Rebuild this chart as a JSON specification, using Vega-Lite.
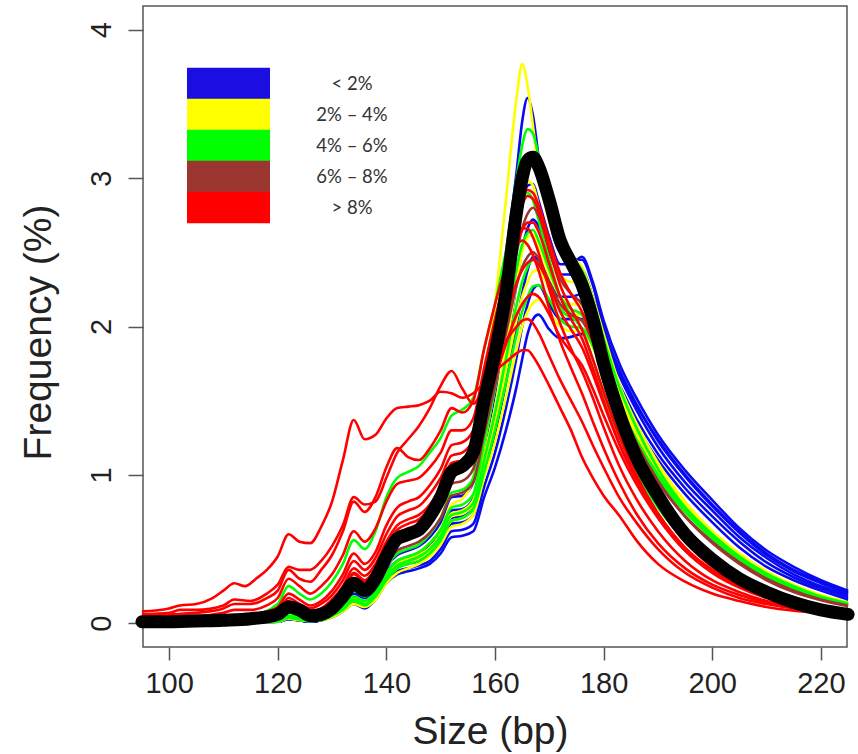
{
"$schema":"https://vega.github.io/schema/vega-lite/v6.json",
"width":704,"height":641,
"autosize":{"type":"none"},
"padding":{"left":143,"top":6,"right":11,"bottom":107},
"background":"white",
"config":{"view":{"stroke":"#555","strokeWidth":1.5},"font":"Liberation Sans"},
"datasets":{"groups":[
{"s":"b1","g":"< 2%"},{"s":"b2","g":"< 2%"},{"s":"b3","g":"< 2%"},{"s":"b4","g":"< 2%"},{"s":"b5","g":"< 2%"},{"s":"b6","g":"< 2%"},
{"s":"y1","g":"2% – 4%"},{"s":"y2","g":"2% – 4%"},{"s":"y3","g":"2% – 4%"},{"s":"y4","g":"2% – 4%"},{"s":"y5","g":"2% – 4%"},
{"s":"g1","g":"4% – 6%"},{"s":"g2","g":"4% – 6%"},{"s":"g3","g":"4% – 6%"},{"s":"g4","g":"4% – 6%"},{"s":"g5","g":"4% – 6%"},
{"s":"n1","g":"6% – 8%"},{"s":"n2","g":"6% – 8%"},
{"s":"rA","g":"> 8%"},{"s":"rB","g":"> 8%"},{"s":"rC","g":"> 8%"},{"s":"rD","g":"> 8%"},{"s":"rE","g":"> 8%"},{"s":"rF","g":"> 8%"},{"s":"rG","g":"> 8%"},{"s":"rH","g":"> 8%"},{"s":"rI","g":"> 8%"},
{"s":"m","g":"mean"}]},
"data":{"values":[
{"s":"b1","x":95,"y":0},{"s":"b1","x":110,"y":0.005},{"s":"b1","x":120,"y":0.015},{"s":"b1","x":122,"y":0.04},{"s":"b1","x":124,"y":0.03},{"s":"b1","x":126,"y":0.02},{"s":"b1","x":128,"y":0.03},{"s":"b1","x":130,"y":0.06},{"s":"b1","x":132,"y":0.11},{"s":"b1","x":134,"y":0.2},{"s":"b1","x":136,"y":0.17},{"s":"b1","x":138,"y":0.24},{"s":"b1","x":140,"y":0.38},{"s":"b1","x":142,"y":0.46},{"s":"b1","x":144,"y":0.49},{"s":"b1","x":146,"y":0.52},{"s":"b1","x":148,"y":0.58},{"s":"b1","x":150,"y":0.68},{"s":"b1","x":152,"y":0.85},{"s":"b1","x":154,"y":0.86},{"s":"b1","x":156,"y":0.95},{"s":"b1","x":158,"y":1.35},{"s":"b1","x":160,"y":1.85},{"s":"b1","x":162,"y":2.45},{"s":"b1","x":164,"y":3.05},{"s":"b1","x":165,"y":3.38},{"s":"b1","x":166,"y":3.54},{"s":"b1","x":167,"y":3.42},{"s":"b1","x":168,"y":3.15},{"s":"b1","x":170,"y":2.72},{"s":"b1","x":172,"y":2.5},{"s":"b1","x":174,"y":2.45},{"s":"b1","x":176,"y":2.45},{"s":"b1","x":178,"y":2.28},{"s":"b1","x":180,"y":2.0},{"s":"b1","x":183,"y":1.68},{"s":"b1","x":186,"y":1.47},{"s":"b1","x":190,"y":1.24},{"s":"b1","x":195,"y":1.0},{"s":"b1","x":200,"y":0.8},{"s":"b1","x":205,"y":0.62},{"s":"b1","x":210,"y":0.47},{"s":"b1","x":215,"y":0.36},{"s":"b1","x":220,"y":0.28},{"s":"b1","x":225,"y":0.21},
{"s":"b2","x":95,"y":0},{"s":"b2","x":110,"y":0.005},{"s":"b2","x":120,"y":0.01},{"s":"b2","x":122,"y":0.03},{"s":"b2","x":124,"y":0.02},{"s":"b2","x":126,"y":0.015},{"s":"b2","x":128,"y":0.025},{"s":"b2","x":130,"y":0.05},{"s":"b2","x":132,"y":0.1},{"s":"b2","x":134,"y":0.18},{"s":"b2","x":136,"y":0.15},{"s":"b2","x":138,"y":0.21},{"s":"b2","x":140,"y":0.35},{"s":"b2","x":142,"y":0.42},{"s":"b2","x":144,"y":0.45},{"s":"b2","x":146,"y":0.47},{"s":"b2","x":148,"y":0.52},{"s":"b2","x":150,"y":0.61},{"s":"b2","x":152,"y":0.76},{"s":"b2","x":154,"y":0.77},{"s":"b2","x":156,"y":0.84},{"s":"b2","x":158,"y":1.18},{"s":"b2","x":160,"y":1.55},{"s":"b2","x":162,"y":2.05},{"s":"b2","x":164,"y":2.6},{"s":"b2","x":165,"y":2.82},{"s":"b2","x":166,"y":2.95},{"s":"b2","x":167,"y":2.96},{"s":"b2","x":168,"y":2.85},{"s":"b2","x":170,"y":2.6},{"s":"b2","x":172,"y":2.42},{"s":"b2","x":174,"y":2.42},{"s":"b2","x":176,"y":2.47},{"s":"b2","x":178,"y":2.3},{"s":"b2","x":180,"y":2.04},{"s":"b2","x":183,"y":1.74},{"s":"b2","x":186,"y":1.52},{"s":"b2","x":190,"y":1.27},{"s":"b2","x":195,"y":1.03},{"s":"b2","x":200,"y":0.83},{"s":"b2","x":205,"y":0.64},{"s":"b2","x":210,"y":0.49},{"s":"b2","x":215,"y":0.38},{"s":"b2","x":220,"y":0.29},{"s":"b2","x":225,"y":0.22},
{"s":"b3","x":95,"y":0},{"s":"b3","x":110,"y":0.005},{"s":"b3","x":120,"y":0.01},{"s":"b3","x":122,"y":0.03},{"s":"b3","x":124,"y":0.02},{"s":"b3","x":126,"y":0.01},{"s":"b3","x":128,"y":0.02},{"s":"b3","x":130,"y":0.05},{"s":"b3","x":132,"y":0.09},{"s":"b3","x":134,"y":0.17},{"s":"b3","x":136,"y":0.14},{"s":"b3","x":138,"y":0.2},{"s":"b3","x":140,"y":0.33},{"s":"b3","x":142,"y":0.4},{"s":"b3","x":144,"y":0.42},{"s":"b3","x":146,"y":0.44},{"s":"b3","x":148,"y":0.49},{"s":"b3","x":150,"y":0.57},{"s":"b3","x":152,"y":0.71},{"s":"b3","x":154,"y":0.72},{"s":"b3","x":156,"y":0.78},{"s":"b3","x":158,"y":1.08},{"s":"b3","x":160,"y":1.4},{"s":"b3","x":162,"y":1.82},{"s":"b3","x":164,"y":2.3},{"s":"b3","x":165,"y":2.52},{"s":"b3","x":166,"y":2.66},{"s":"b3","x":167,"y":2.72},{"s":"b3","x":168,"y":2.68},{"s":"b3","x":170,"y":2.5},{"s":"b3","x":172,"y":2.35},{"s":"b3","x":174,"y":2.35},{"s":"b3","x":176,"y":2.38},{"s":"b3","x":178,"y":2.2},{"s":"b3","x":180,"y":1.98},{"s":"b3","x":183,"y":1.7},{"s":"b3","x":186,"y":1.48},{"s":"b3","x":190,"y":1.23},{"s":"b3","x":195,"y":0.99},{"s":"b3","x":200,"y":0.79},{"s":"b3","x":205,"y":0.61},{"s":"b3","x":210,"y":0.46},{"s":"b3","x":215,"y":0.35},{"s":"b3","x":220,"y":0.27},{"s":"b3","x":225,"y":0.2},
{"s":"b4","x":95,"y":0},{"s":"b4","x":110,"y":0.005},{"s":"b4","x":120,"y":0.01},{"s":"b4","x":122,"y":0.025},{"s":"b4","x":124,"y":0.02},{"s":"b4","x":126,"y":0.01},{"s":"b4","x":128,"y":0.02},{"s":"b4","x":130,"y":0.045},{"s":"b4","x":132,"y":0.09},{"s":"b4","x":134,"y":0.16},{"s":"b4","x":136,"y":0.13},{"s":"b4","x":138,"y":0.19},{"s":"b4","x":140,"y":0.31},{"s":"b4","x":142,"y":0.38},{"s":"b4","x":144,"y":0.4},{"s":"b4","x":146,"y":0.42},{"s":"b4","x":148,"y":0.46},{"s":"b4","x":150,"y":0.54},{"s":"b4","x":152,"y":0.67},{"s":"b4","x":154,"y":0.68},{"s":"b4","x":156,"y":0.73},{"s":"b4","x":158,"y":1.0},{"s":"b4","x":160,"y":1.28},{"s":"b4","x":162,"y":1.62},{"s":"b4","x":164,"y":2.02},{"s":"b4","x":165,"y":2.22},{"s":"b4","x":166,"y":2.38},{"s":"b4","x":167,"y":2.47},{"s":"b4","x":168,"y":2.45},{"s":"b4","x":170,"y":2.3},{"s":"b4","x":172,"y":2.2},{"s":"b4","x":174,"y":2.2},{"s":"b4","x":176,"y":2.22},{"s":"b4","x":178,"y":2.08},{"s":"b4","x":180,"y":1.92},{"s":"b4","x":183,"y":1.66},{"s":"b4","x":186,"y":1.44},{"s":"b4","x":190,"y":1.19},{"s":"b4","x":195,"y":0.95},{"s":"b4","x":200,"y":0.76},{"s":"b4","x":205,"y":0.58},{"s":"b4","x":210,"y":0.44},{"s":"b4","x":215,"y":0.33},{"s":"b4","x":220,"y":0.25},{"s":"b4","x":225,"y":0.19},
{"s":"b5","x":95,"y":0},{"s":"b5","x":110,"y":0.005},{"s":"b5","x":120,"y":0.01},{"s":"b5","x":122,"y":0.03},{"s":"b5","x":124,"y":0.02},{"s":"b5","x":126,"y":0.015},{"s":"b5","x":128,"y":0.02},{"s":"b5","x":130,"y":0.045},{"s":"b5","x":132,"y":0.09},{"s":"b5","x":134,"y":0.14},{"s":"b5","x":136,"y":0.11},{"s":"b5","x":138,"y":0.17},{"s":"b5","x":140,"y":0.29},{"s":"b5","x":142,"y":0.35},{"s":"b5","x":144,"y":0.37},{"s":"b5","x":146,"y":0.39},{"s":"b5","x":148,"y":0.42},{"s":"b5","x":150,"y":0.5},{"s":"b5","x":152,"y":0.62},{"s":"b5","x":154,"y":0.63},{"s":"b5","x":156,"y":0.67},{"s":"b5","x":158,"y":0.92},{"s":"b5","x":160,"y":1.15},{"s":"b5","x":162,"y":1.45},{"s":"b5","x":164,"y":1.8},{"s":"b5","x":165,"y":2.0},{"s":"b5","x":166,"y":2.15},{"s":"b5","x":167,"y":2.25},{"s":"b5","x":168,"y":2.28},{"s":"b5","x":170,"y":2.15},{"s":"b5","x":172,"y":2.05},{"s":"b5","x":174,"y":2.05},{"s":"b5","x":176,"y":2.05},{"s":"b5","x":178,"y":1.95},{"s":"b5","x":180,"y":1.83},{"s":"b5","x":183,"y":1.6},{"s":"b5","x":186,"y":1.38},{"s":"b5","x":190,"y":1.14},{"s":"b5","x":195,"y":0.91},{"s":"b5","x":200,"y":0.72},{"s":"b5","x":205,"y":0.55},{"s":"b5","x":210,"y":0.41},{"s":"b5","x":215,"y":0.31},{"s":"b5","x":220,"y":0.235},{"s":"b5","x":225,"y":0.175},
{"s":"b6","x":95,"y":0},{"s":"b6","x":110,"y":0.005},{"s":"b6","x":120,"y":0.01},{"s":"b6","x":122,"y":0.03},{"s":"b6","x":124,"y":0.02},{"s":"b6","x":126,"y":0.01},{"s":"b6","x":128,"y":0.02},{"s":"b6","x":130,"y":0.04},{"s":"b6","x":132,"y":0.08},{"s":"b6","x":134,"y":0.13},{"s":"b6","x":136,"y":0.1},{"s":"b6","x":138,"y":0.16},{"s":"b6","x":140,"y":0.27},{"s":"b6","x":142,"y":0.33},{"s":"b6","x":144,"y":0.35},{"s":"b6","x":146,"y":0.37},{"s":"b6","x":148,"y":0.4},{"s":"b6","x":150,"y":0.47},{"s":"b6","x":152,"y":0.58},{"s":"b6","x":154,"y":0.59},{"s":"b6","x":156,"y":0.62},{"s":"b6","x":158,"y":0.85},{"s":"b6","x":160,"y":1.05},{"s":"b6","x":162,"y":1.3},{"s":"b6","x":164,"y":1.6},{"s":"b6","x":165,"y":1.78},{"s":"b6","x":166,"y":1.95},{"s":"b6","x":167,"y":2.05},{"s":"b6","x":168,"y":2.08},{"s":"b6","x":170,"y":1.98},{"s":"b6","x":172,"y":1.92},{"s":"b6","x":174,"y":1.93},{"s":"b6","x":176,"y":1.95},{"s":"b6","x":178,"y":1.88},{"s":"b6","x":180,"y":1.78},{"s":"b6","x":183,"y":1.55},{"s":"b6","x":186,"y":1.33},{"s":"b6","x":190,"y":1.1},{"s":"b6","x":195,"y":0.87},{"s":"b6","x":200,"y":0.68},{"s":"b6","x":205,"y":0.51},{"s":"b6","x":210,"y":0.38},{"s":"b6","x":215,"y":0.29},{"s":"b6","x":220,"y":0.22},{"s":"b6","x":225,"y":0.16},
{"s":"y1","x":95,"y":0},{"s":"y1","x":110,"y":0.005},{"s":"y1","x":120,"y":0.02},{"s":"y1","x":122,"y":0.05},{"s":"y1","x":124,"y":0.04},{"s":"y1","x":126,"y":0.02},{"s":"y1","x":128,"y":0.03},{"s":"y1","x":130,"y":0.06},{"s":"y1","x":132,"y":0.11},{"s":"y1","x":134,"y":0.18},{"s":"y1","x":136,"y":0.15},{"s":"y1","x":138,"y":0.21},{"s":"y1","x":140,"y":0.34},{"s":"y1","x":142,"y":0.42},{"s":"y1","x":144,"y":0.45},{"s":"y1","x":146,"y":0.48},{"s":"y1","x":148,"y":0.54},{"s":"y1","x":150,"y":0.64},{"s":"y1","x":152,"y":0.8},{"s":"y1","x":154,"y":0.84},{"s":"y1","x":156,"y":0.98},{"s":"y1","x":158,"y":1.6},{"s":"y1","x":160,"y":2.15},{"s":"y1","x":162,"y":2.85},{"s":"y1","x":164,"y":3.55},{"s":"y1","x":165,"y":3.77},{"s":"y1","x":166,"y":3.62},{"s":"y1","x":167,"y":3.35},{"s":"y1","x":168,"y":3.05},{"s":"y1","x":170,"y":2.7},{"s":"y1","x":172,"y":2.52},{"s":"y1","x":174,"y":2.47},{"s":"y1","x":176,"y":2.4},{"s":"y1","x":178,"y":2.2},{"s":"y1","x":180,"y":1.95},{"s":"y1","x":183,"y":1.6},{"s":"y1","x":186,"y":1.35},{"s":"y1","x":190,"y":1.08},{"s":"y1","x":195,"y":0.82},{"s":"y1","x":200,"y":0.62},{"s":"y1","x":205,"y":0.46},{"s":"y1","x":210,"y":0.34},{"s":"y1","x":215,"y":0.25},{"s":"y1","x":220,"y":0.18},{"s":"y1","x":225,"y":0.13},
{"s":"y2","x":95,"y":0},{"s":"y2","x":110,"y":0.005},{"s":"y2","x":120,"y":0.015},{"s":"y2","x":122,"y":0.04},{"s":"y2","x":124,"y":0.03},{"s":"y2","x":126,"y":0.02},{"s":"y2","x":128,"y":0.03},{"s":"y2","x":130,"y":0.06},{"s":"y2","x":132,"y":0.1},{"s":"y2","x":134,"y":0.17},{"s":"y2","x":136,"y":0.14},{"s":"y2","x":138,"y":0.2},{"s":"y2","x":140,"y":0.32},{"s":"y2","x":142,"y":0.4},{"s":"y2","x":144,"y":0.43},{"s":"y2","x":146,"y":0.46},{"s":"y2","x":148,"y":0.51},{"s":"y2","x":150,"y":0.6},{"s":"y2","x":152,"y":0.74},{"s":"y2","x":154,"y":0.76},{"s":"y2","x":156,"y":0.83},{"s":"y2","x":158,"y":1.2},{"s":"y2","x":160,"y":1.6},{"s":"y2","x":162,"y":2.1},{"s":"y2","x":164,"y":2.65},{"s":"y2","x":165,"y":2.88},{"s":"y2","x":166,"y":2.98},{"s":"y2","x":167,"y":2.95},{"s":"y2","x":168,"y":2.82},{"s":"y2","x":170,"y":2.55},{"s":"y2","x":172,"y":2.35},{"s":"y2","x":174,"y":2.3},{"s":"y2","x":176,"y":2.3},{"s":"y2","x":178,"y":2.12},{"s":"y2","x":180,"y":1.88},{"s":"y2","x":183,"y":1.55},{"s":"y2","x":186,"y":1.3},{"s":"y2","x":190,"y":1.05},{"s":"y2","x":195,"y":0.8},{"s":"y2","x":200,"y":0.6},{"s":"y2","x":205,"y":0.45},{"s":"y2","x":210,"y":0.33},{"s":"y2","x":215,"y":0.245},{"s":"y2","x":220,"y":0.18},{"s":"y2","x":225,"y":0.13},
{"s":"y3","x":95,"y":0},{"s":"y3","x":110,"y":0.005},{"s":"y3","x":120,"y":0.015},{"s":"y3","x":122,"y":0.04},{"s":"y3","x":124,"y":0.03},{"s":"y3","x":126,"y":0.02},{"s":"y3","x":128,"y":0.03},{"s":"y3","x":130,"y":0.055},{"s":"y3","x":132,"y":0.1},{"s":"y3","x":134,"y":0.16},{"s":"y3","x":136,"y":0.13},{"s":"y3","x":138,"y":0.19},{"s":"y3","x":140,"y":0.31},{"s":"y3","x":142,"y":0.39},{"s":"y3","x":144,"y":0.42},{"s":"y3","x":146,"y":0.45},{"s":"y3","x":148,"y":0.5},{"s":"y3","x":150,"y":0.59},{"s":"y3","x":152,"y":0.72},{"s":"y3","x":154,"y":0.74},{"s":"y3","x":156,"y":0.8},{"s":"y3","x":158,"y":1.12},{"s":"y3","x":160,"y":1.45},{"s":"y3","x":162,"y":1.85},{"s":"y3","x":164,"y":2.3},{"s":"y3","x":165,"y":2.5},{"s":"y3","x":166,"y":2.6},{"s":"y3","x":167,"y":2.62},{"s":"y3","x":168,"y":2.55},{"s":"y3","x":170,"y":2.35},{"s":"y3","x":172,"y":2.2},{"s":"y3","x":174,"y":2.15},{"s":"y3","x":176,"y":2.15},{"s":"y3","x":178,"y":2.0},{"s":"y3","x":180,"y":1.8},{"s":"y3","x":183,"y":1.5},{"s":"y3","x":186,"y":1.27},{"s":"y3","x":190,"y":1.02},{"s":"y3","x":195,"y":0.78},{"s":"y3","x":200,"y":0.59},{"s":"y3","x":205,"y":0.44},{"s":"y3","x":210,"y":0.32},{"s":"y3","x":215,"y":0.24},{"s":"y3","x":220,"y":0.175},{"s":"y3","x":225,"y":0.125},
{"s":"y4","x":95,"y":0},{"s":"y4","x":110,"y":0.005},{"s":"y4","x":120,"y":0.01},{"s":"y4","x":122,"y":0.035},{"s":"y4","x":124,"y":0.025},{"s":"y4","x":126,"y":0.015},{"s":"y4","x":128,"y":0.025},{"s":"y4","x":130,"y":0.05},{"s":"y4","x":132,"y":0.09},{"s":"y4","x":134,"y":0.15},{"s":"y4","x":136,"y":0.12},{"s":"y4","x":138,"y":0.18},{"s":"y4","x":140,"y":0.3},{"s":"y4","x":142,"y":0.37},{"s":"y4","x":144,"y":0.4},{"s":"y4","x":146,"y":0.43},{"s":"y4","x":148,"y":0.48},{"s":"y4","x":150,"y":0.56},{"s":"y4","x":152,"y":0.69},{"s":"y4","x":154,"y":0.71},{"s":"y4","x":156,"y":0.77},{"s":"y4","x":158,"y":1.05},{"s":"y4","x":160,"y":1.35},{"s":"y4","x":162,"y":1.7},{"s":"y4","x":164,"y":2.05},{"s":"y4","x":165,"y":2.2},{"s":"y4","x":166,"y":2.3},{"s":"y4","x":167,"y":2.37},{"s":"y4","x":168,"y":2.38},{"s":"y4","x":170,"y":2.25},{"s":"y4","x":172,"y":2.12},{"s":"y4","x":174,"y":2.08},{"s":"y4","x":176,"y":2.08},{"s":"y4","x":178,"y":1.95},{"s":"y4","x":180,"y":1.78},{"s":"y4","x":183,"y":1.52},{"s":"y4","x":186,"y":1.3},{"s":"y4","x":190,"y":1.05},{"s":"y4","x":195,"y":0.8},{"s":"y4","x":200,"y":0.61},{"s":"y4","x":205,"y":0.46},{"s":"y4","x":210,"y":0.34},{"s":"y4","x":215,"y":0.25},{"s":"y4","x":220,"y":0.18},{"s":"y4","x":225,"y":0.13},
{"s":"y5","x":95,"y":0},{"s":"y5","x":110,"y":0.005},{"s":"y5","x":120,"y":0.01},{"s":"y5","x":122,"y":0.03},{"s":"y5","x":124,"y":0.02},{"s":"y5","x":126,"y":0.015},{"s":"y5","x":128,"y":0.02},{"s":"y5","x":130,"y":0.04},{"s":"y5","x":132,"y":0.08},{"s":"y5","x":134,"y":0.13},{"s":"y5","x":136,"y":0.11},{"s":"y5","x":138,"y":0.16},{"s":"y5","x":140,"y":0.27},{"s":"y5","x":142,"y":0.34},{"s":"y5","x":144,"y":0.37},{"s":"y5","x":146,"y":0.4},{"s":"y5","x":148,"y":0.45},{"s":"y5","x":150,"y":0.53},{"s":"y5","x":152,"y":0.65},{"s":"y5","x":154,"y":0.67},{"s":"y5","x":156,"y":0.73},{"s":"y5","x":158,"y":0.98},{"s":"y5","x":160,"y":1.22},{"s":"y5","x":162,"y":1.52},{"s":"y5","x":164,"y":1.85},{"s":"y5","x":165,"y":2.0},{"s":"y5","x":166,"y":2.1},{"s":"y5","x":167,"y":2.16},{"s":"y5","x":168,"y":2.18},{"s":"y5","x":170,"y":2.1},{"s":"y5","x":172,"y":2.0},{"s":"y5","x":174,"y":1.97},{"s":"y5","x":176,"y":1.97},{"s":"y5","x":178,"y":1.86},{"s":"y5","x":180,"y":1.7},{"s":"y5","x":183,"y":1.47},{"s":"y5","x":186,"y":1.27},{"s":"y5","x":190,"y":1.03},{"s":"y5","x":195,"y":0.8},{"s":"y5","x":200,"y":0.62},{"s":"y5","x":205,"y":0.47},{"s":"y5","x":210,"y":0.35},{"s":"y5","x":215,"y":0.26},{"s":"y5","x":220,"y":0.19},{"s":"y5","x":225,"y":0.14},
{"s":"g1","x":95,"y":0},{"s":"g1","x":110,"y":0.01},{"s":"g1","x":120,"y":0.03},{"s":"g1","x":122,"y":0.07},{"s":"g1","x":124,"y":0.05},{"s":"g1","x":126,"y":0.03},{"s":"g1","x":128,"y":0.04},{"s":"g1","x":130,"y":0.08},{"s":"g1","x":132,"y":0.14},{"s":"g1","x":134,"y":0.22},{"s":"g1","x":136,"y":0.18},{"s":"g1","x":138,"y":0.25},{"s":"g1","x":140,"y":0.38},{"s":"g1","x":142,"y":0.47},{"s":"g1","x":144,"y":0.5},{"s":"g1","x":146,"y":0.53},{"s":"g1","x":148,"y":0.6},{"s":"g1","x":150,"y":0.71},{"s":"g1","x":152,"y":0.88},{"s":"g1","x":154,"y":0.9},{"s":"g1","x":156,"y":0.98},{"s":"g1","x":158,"y":1.45},{"s":"g1","x":160,"y":1.95},{"s":"g1","x":162,"y":2.5},{"s":"g1","x":164,"y":3.0},{"s":"g1","x":165,"y":3.22},{"s":"g1","x":166,"y":3.33},{"s":"g1","x":167,"y":3.3},{"s":"g1","x":168,"y":3.15},{"s":"g1","x":170,"y":2.8},{"s":"g1","x":172,"y":2.55},{"s":"g1","x":174,"y":2.45},{"s":"g1","x":176,"y":2.38},{"s":"g1","x":178,"y":2.18},{"s":"g1","x":180,"y":1.92},{"s":"g1","x":183,"y":1.58},{"s":"g1","x":186,"y":1.32},{"s":"g1","x":190,"y":1.04},{"s":"g1","x":195,"y":0.78},{"s":"g1","x":200,"y":0.58},{"s":"g1","x":205,"y":0.43},{"s":"g1","x":210,"y":0.31},{"s":"g1","x":215,"y":0.23},{"s":"g1","x":220,"y":0.165},{"s":"g1","x":225,"y":0.12},
{"s":"g2","x":95,"y":0.01},{"s":"g2","x":110,"y":0.03},{"s":"g2","x":115,"y":0.05},{"s":"g2","x":120,"y":0.13},{"s":"g2","x":122,"y":0.25},{"s":"g2","x":124,"y":0.2},{"s":"g2","x":126,"y":0.16},{"s":"g2","x":128,"y":0.2},{"s":"g2","x":130,"y":0.28},{"s":"g2","x":132,"y":0.4},{"s":"g2","x":134,"y":0.56},{"s":"g2","x":136,"y":0.5},{"s":"g2","x":138,"y":0.62},{"s":"g2","x":140,"y":0.85},{"s":"g2","x":142,"y":0.98},{"s":"g2","x":144,"y":1.02},{"s":"g2","x":146,"y":1.06},{"s":"g2","x":148,"y":1.15},{"s":"g2","x":150,"y":1.25},{"s":"g2","x":152,"y":1.4},{"s":"g2","x":154,"y":1.44},{"s":"g2","x":156,"y":1.52},{"s":"g2","x":158,"y":1.85},{"s":"g2","x":160,"y":2.15},{"s":"g2","x":162,"y":2.5},{"s":"g2","x":164,"y":2.78},{"s":"g2","x":165,"y":2.88},{"s":"g2","x":166,"y":2.9},{"s":"g2","x":167,"y":2.85},{"s":"g2","x":168,"y":2.72},{"s":"g2","x":170,"y":2.45},{"s":"g2","x":172,"y":2.2},{"s":"g2","x":174,"y":2.08},{"s":"g2","x":176,"y":1.98},{"s":"g2","x":178,"y":1.78},{"s":"g2","x":180,"y":1.55},{"s":"g2","x":183,"y":1.25},{"s":"g2","x":186,"y":1.02},{"s":"g2","x":190,"y":0.78},{"s":"g2","x":195,"y":0.56},{"s":"g2","x":200,"y":0.4},{"s":"g2","x":205,"y":0.28},{"s":"g2","x":210,"y":0.2},{"s":"g2","x":215,"y":0.14},{"s":"g2","x":220,"y":0.1},{"s":"g2","x":225,"y":0.07},
{"s":"g3","x":95,"y":0},{"s":"g3","x":110,"y":0.005},{"s":"g3","x":120,"y":0.02},{"s":"g3","x":122,"y":0.05},{"s":"g3","x":124,"y":0.04},{"s":"g3","x":126,"y":0.02},{"s":"g3","x":128,"y":0.03},{"s":"g3","x":130,"y":0.06},{"s":"g3","x":132,"y":0.11},{"s":"g3","x":134,"y":0.18},{"s":"g3","x":136,"y":0.15},{"s":"g3","x":138,"y":0.21},{"s":"g3","x":140,"y":0.34},{"s":"g3","x":142,"y":0.42},{"s":"g3","x":144,"y":0.45},{"s":"g3","x":146,"y":0.48},{"s":"g3","x":148,"y":0.54},{"s":"g3","x":150,"y":0.63},{"s":"g3","x":152,"y":0.78},{"s":"g3","x":154,"y":0.8},{"s":"g3","x":156,"y":0.87},{"s":"g3","x":158,"y":1.22},{"s":"g3","x":160,"y":1.58},{"s":"g3","x":162,"y":1.98},{"s":"g3","x":164,"y":2.4},{"s":"g3","x":165,"y":2.55},{"s":"g3","x":166,"y":2.63},{"s":"g3","x":167,"y":2.65},{"s":"g3","x":168,"y":2.58},{"s":"g3","x":170,"y":2.38},{"s":"g3","x":172,"y":2.2},{"s":"g3","x":174,"y":2.12},{"s":"g3","x":176,"y":2.08},{"s":"g3","x":178,"y":1.92},{"s":"g3","x":180,"y":1.72},{"s":"g3","x":183,"y":1.45},{"s":"g3","x":186,"y":1.22},{"s":"g3","x":190,"y":0.98},{"s":"g3","x":195,"y":0.75},{"s":"g3","x":200,"y":0.57},{"s":"g3","x":205,"y":0.42},{"s":"g3","x":210,"y":0.31},{"s":"g3","x":215,"y":0.23},{"s":"g3","x":220,"y":0.165},{"s":"g3","x":225,"y":0.12},
{"s":"g4","x":95,"y":0},{"s":"g4","x":110,"y":0.005},{"s":"g4","x":120,"y":0.015},{"s":"g4","x":122,"y":0.04},{"s":"g4","x":124,"y":0.03},{"s":"g4","x":126,"y":0.02},{"s":"g4","x":128,"y":0.025},{"s":"g4","x":130,"y":0.05},{"s":"g4","x":132,"y":0.1},{"s":"g4","x":134,"y":0.16},{"s":"g4","x":136,"y":0.13},{"s":"g4","x":138,"y":0.19},{"s":"g4","x":140,"y":0.31},{"s":"g4","x":142,"y":0.39},{"s":"g4","x":144,"y":0.42},{"s":"g4","x":146,"y":0.45},{"s":"g4","x":148,"y":0.5},{"s":"g4","x":150,"y":0.59},{"s":"g4","x":152,"y":0.73},{"s":"g4","x":154,"y":0.75},{"s":"g4","x":156,"y":0.81},{"s":"g4","x":158,"y":1.1},{"s":"g4","x":160,"y":1.42},{"s":"g4","x":162,"y":1.78},{"s":"g4","x":164,"y":2.15},{"s":"g4","x":165,"y":2.3},{"s":"g4","x":166,"y":2.4},{"s":"g4","x":167,"y":2.45},{"s":"g4","x":168,"y":2.42},{"s":"g4","x":170,"y":2.28},{"s":"g4","x":172,"y":2.12},{"s":"g4","x":174,"y":2.06},{"s":"g4","x":176,"y":2.04},{"s":"g4","x":178,"y":1.9},{"s":"g4","x":180,"y":1.72},{"s":"g4","x":183,"y":1.46},{"s":"g4","x":186,"y":1.24},{"s":"g4","x":190,"y":1.0},{"s":"g4","x":195,"y":0.77},{"s":"g4","x":200,"y":0.59},{"s":"g4","x":205,"y":0.44},{"s":"g4","x":210,"y":0.33},{"s":"g4","x":215,"y":0.245},{"s":"g4","x":220,"y":0.175},{"s":"g4","x":225,"y":0.13},
{"s":"g5","x":95,"y":0},{"s":"g5","x":110,"y":0.005},{"s":"g5","x":120,"y":0.01},{"s":"g5","x":122,"y":0.035},{"s":"g5","x":124,"y":0.025},{"s":"g5","x":126,"y":0.015},{"s":"g5","x":128,"y":0.02},{"s":"g5","x":130,"y":0.05},{"s":"g5","x":132,"y":0.09},{"s":"g5","x":134,"y":0.15},{"s":"g5","x":136,"y":0.12},{"s":"g5","x":138,"y":0.18},{"s":"g5","x":140,"y":0.29},{"s":"g5","x":142,"y":0.37},{"s":"g5","x":144,"y":0.4},{"s":"g5","x":146,"y":0.42},{"s":"g5","x":148,"y":0.47},{"s":"g5","x":150,"y":0.56},{"s":"g5","x":152,"y":0.69},{"s":"g5","x":154,"y":0.71},{"s":"g5","x":156,"y":0.77},{"s":"g5","x":158,"y":1.02},{"s":"g5","x":160,"y":1.3},{"s":"g5","x":162,"y":1.62},{"s":"g5","x":164,"y":1.95},{"s":"g5","x":165,"y":2.1},{"s":"g5","x":166,"y":2.2},{"s":"g5","x":167,"y":2.27},{"s":"g5","x":168,"y":2.28},{"s":"g5","x":170,"y":2.18},{"s":"g5","x":172,"y":2.05},{"s":"g5","x":174,"y":2.0},{"s":"g5","x":176,"y":1.99},{"s":"g5","x":178,"y":1.87},{"s":"g5","x":180,"y":1.7},{"s":"g5","x":183,"y":1.45},{"s":"g5","x":186,"y":1.24},{"s":"g5","x":190,"y":1.0},{"s":"g5","x":195,"y":0.78},{"s":"g5","x":200,"y":0.6},{"s":"g5","x":205,"y":0.45},{"s":"g5","x":210,"y":0.335},{"s":"g5","x":215,"y":0.25},{"s":"g5","x":220,"y":0.18},{"s":"g5","x":225,"y":0.135},
{"s":"n1","x":95,"y":0.01},{"s":"n1","x":110,"y":0.02},{"s":"n1","x":120,"y":0.05},{"s":"n1","x":122,"y":0.1},{"s":"n1","x":124,"y":0.08},{"s":"n1","x":126,"y":0.05},{"s":"n1","x":128,"y":0.06},{"s":"n1","x":130,"y":0.1},{"s":"n1","x":132,"y":0.17},{"s":"n1","x":134,"y":0.26},{"s":"n1","x":136,"y":0.22},{"s":"n1","x":138,"y":0.29},{"s":"n1","x":140,"y":0.43},{"s":"n1","x":142,"y":0.53},{"s":"n1","x":144,"y":0.56},{"s":"n1","x":146,"y":0.6},{"s":"n1","x":148,"y":0.67},{"s":"n1","x":150,"y":0.78},{"s":"n1","x":152,"y":0.94},{"s":"n1","x":154,"y":0.96},{"s":"n1","x":156,"y":1.04},{"s":"n1","x":158,"y":1.4},{"s":"n1","x":160,"y":1.75},{"s":"n1","x":162,"y":2.12},{"s":"n1","x":164,"y":2.5},{"s":"n1","x":165,"y":2.66},{"s":"n1","x":166,"y":2.76},{"s":"n1","x":167,"y":2.8},{"s":"n1","x":168,"y":2.75},{"s":"n1","x":170,"y":2.52},{"s":"n1","x":172,"y":2.32},{"s":"n1","x":174,"y":2.22},{"s":"n1","x":176,"y":2.15},{"s":"n1","x":178,"y":1.97},{"s":"n1","x":180,"y":1.75},{"s":"n1","x":183,"y":1.46},{"s":"n1","x":186,"y":1.22},{"s":"n1","x":190,"y":0.96},{"s":"n1","x":195,"y":0.72},{"s":"n1","x":200,"y":0.54},{"s":"n1","x":205,"y":0.4},{"s":"n1","x":210,"y":0.29},{"s":"n1","x":215,"y":0.21},{"s":"n1","x":220,"y":0.155},{"s":"n1","x":225,"y":0.115},
{"s":"n2","x":95,"y":0.01},{"s":"n2","x":110,"y":0.02},{"s":"n2","x":120,"y":0.04},{"s":"n2","x":122,"y":0.08},{"s":"n2","x":124,"y":0.06},{"s":"n2","x":126,"y":0.04},{"s":"n2","x":128,"y":0.05},{"s":"n2","x":130,"y":0.09},{"s":"n2","x":132,"y":0.15},{"s":"n2","x":134,"y":0.23},{"s":"n2","x":136,"y":0.19},{"s":"n2","x":138,"y":0.26},{"s":"n2","x":140,"y":0.4},{"s":"n2","x":142,"y":0.49},{"s":"n2","x":144,"y":0.52},{"s":"n2","x":146,"y":0.55},{"s":"n2","x":148,"y":0.61},{"s":"n2","x":150,"y":0.71},{"s":"n2","x":152,"y":0.86},{"s":"n2","x":154,"y":0.88},{"s":"n2","x":156,"y":0.95},{"s":"n2","x":158,"y":1.28},{"s":"n2","x":160,"y":1.6},{"s":"n2","x":162,"y":1.95},{"s":"n2","x":164,"y":2.28},{"s":"n2","x":165,"y":2.4},{"s":"n2","x":166,"y":2.47},{"s":"n2","x":167,"y":2.5},{"s":"n2","x":168,"y":2.46},{"s":"n2","x":170,"y":2.3},{"s":"n2","x":172,"y":2.15},{"s":"n2","x":174,"y":2.08},{"s":"n2","x":176,"y":2.04},{"s":"n2","x":178,"y":1.9},{"s":"n2","x":180,"y":1.7},{"s":"n2","x":183,"y":1.42},{"s":"n2","x":186,"y":1.19},{"s":"n2","x":190,"y":0.95},{"s":"n2","x":195,"y":0.72},{"s":"n2","x":200,"y":0.55},{"s":"n2","x":205,"y":0.41},{"s":"n2","x":210,"y":0.3},{"s":"n2","x":215,"y":0.22},{"s":"n2","x":220,"y":0.16},{"s":"n2","x":225,"y":0.12},
{"s":"rA","x":95,"y":0.08},{"s":"rA","x":100,"y":0.1},{"s":"rA","x":102,"y":0.12},{"s":"rA","x":105,"y":0.13},{"s":"rA","x":108,"y":0.17},{"s":"rA","x":110,"y":0.22},{"s":"rA","x":112,"y":0.27},{"s":"rA","x":114,"y":0.25},{"s":"rA","x":116,"y":0.3},{"s":"rA","x":118,"y":0.36},{"s":"rA","x":120,"y":0.45},{"s":"rA","x":122,"y":0.6},{"s":"rA","x":124,"y":0.55},{"s":"rA","x":126,"y":0.54},{"s":"rA","x":128,"y":0.65},{"s":"rA","x":130,"y":0.82},{"s":"rA","x":132,"y":1.1},{"s":"rA","x":134,"y":1.37},{"s":"rA","x":136,"y":1.24},{"s":"rA","x":138,"y":1.27},{"s":"rA","x":140,"y":1.38},{"s":"rA","x":142,"y":1.45},{"s":"rA","x":144,"y":1.46},{"s":"rA","x":146,"y":1.47},{"s":"rA","x":148,"y":1.5},{"s":"rA","x":150,"y":1.56},{"s":"rA","x":152,"y":1.55},{"s":"rA","x":154,"y":1.52},{"s":"rA","x":156,"y":1.55},{"s":"rA","x":158,"y":1.62},{"s":"rA","x":160,"y":1.7},{"s":"rA","x":162,"y":1.76},{"s":"rA","x":164,"y":1.82},{"s":"rA","x":165,"y":1.84},{"s":"rA","x":166,"y":1.84},{"s":"rA","x":167,"y":1.8},{"s":"rA","x":168,"y":1.74},{"s":"rA","x":170,"y":1.6},{"s":"rA","x":172,"y":1.45},{"s":"rA","x":174,"y":1.3},{"s":"rA","x":176,"y":1.12},{"s":"rA","x":178,"y":0.98},{"s":"rA","x":180,"y":0.86},{"s":"rA","x":183,"y":0.72},{"s":"rA","x":186,"y":0.56},{"s":"rA","x":190,"y":0.4},{"s":"rA","x":195,"y":0.28},{"s":"rA","x":200,"y":0.2},{"s":"rA","x":205,"y":0.15},{"s":"rA","x":210,"y":0.11},{"s":"rA","x":215,"y":0.085},{"s":"rA","x":220,"y":0.07},{"s":"rA","x":225,"y":0.06},
{"s":"rB","x":95,"y":0.06},{"s":"rB","x":100,"y":0.07},{"s":"rB","x":102,"y":0.09},{"s":"rB","x":105,"y":0.09},{"s":"rB","x":110,"y":0.12},{"s":"rB","x":112,"y":0.16},{"s":"rB","x":115,"y":0.15},{"s":"rB","x":118,"y":0.2},{"s":"rB","x":120,"y":0.26},{"s":"rB","x":122,"y":0.38},{"s":"rB","x":124,"y":0.36},{"s":"rB","x":126,"y":0.36},{"s":"rB","x":128,"y":0.42},{"s":"rB","x":130,"y":0.52},{"s":"rB","x":132,"y":0.66},{"s":"rB","x":134,"y":0.85},{"s":"rB","x":136,"y":0.8},{"s":"rB","x":138,"y":0.82},{"s":"rB","x":140,"y":0.98},{"s":"rB","x":142,"y":1.15},{"s":"rB","x":144,"y":1.24},{"s":"rB","x":146,"y":1.33},{"s":"rB","x":148,"y":1.45},{"s":"rB","x":150,"y":1.6},{"s":"rB","x":152,"y":1.7},{"s":"rB","x":154,"y":1.58},{"s":"rB","x":156,"y":1.48},{"s":"rB","x":158,"y":1.6},{"s":"rB","x":160,"y":1.75},{"s":"rB","x":162,"y":1.9},{"s":"rB","x":164,"y":2.0},{"s":"rB","x":165,"y":2.04},{"s":"rB","x":166,"y":2.05},{"s":"rB","x":167,"y":2.02},{"s":"rB","x":168,"y":1.96},{"s":"rB","x":170,"y":1.8},{"s":"rB","x":172,"y":1.64},{"s":"rB","x":174,"y":1.5},{"s":"rB","x":176,"y":1.36},{"s":"rB","x":178,"y":1.2},{"s":"rB","x":180,"y":1.05},{"s":"rB","x":183,"y":0.84},{"s":"rB","x":186,"y":0.68},{"s":"rB","x":190,"y":0.5},{"s":"rB","x":195,"y":0.34},{"s":"rB","x":200,"y":0.24},{"s":"rB","x":205,"y":0.17},{"s":"rB","x":210,"y":0.13},{"s":"rB","x":215,"y":0.1},{"s":"rB","x":220,"y":0.08},{"s":"rB","x":225,"y":0.07},
{"s":"rC","x":95,"y":0.05},{"s":"rC","x":100,"y":0.06},{"s":"rC","x":105,"y":0.07},{"s":"rC","x":110,"y":0.1},{"s":"rC","x":112,"y":0.13},{"s":"rC","x":115,"y":0.13},{"s":"rC","x":118,"y":0.17},{"s":"rC","x":120,"y":0.22},{"s":"rC","x":122,"y":0.36},{"s":"rC","x":124,"y":0.3},{"s":"rC","x":126,"y":0.28},{"s":"rC","x":128,"y":0.36},{"s":"rC","x":130,"y":0.46},{"s":"rC","x":132,"y":0.62},{"s":"rC","x":134,"y":0.82},{"s":"rC","x":136,"y":0.75},{"s":"rC","x":138,"y":0.85},{"s":"rC","x":140,"y":1.05},{"s":"rC","x":142,"y":1.18},{"s":"rC","x":144,"y":1.12},{"s":"rC","x":146,"y":1.1},{"s":"rC","x":148,"y":1.18},{"s":"rC","x":150,"y":1.3},{"s":"rC","x":152,"y":1.45},{"s":"rC","x":154,"y":1.42},{"s":"rC","x":156,"y":1.5},{"s":"rC","x":158,"y":1.85},{"s":"rC","x":160,"y":2.15},{"s":"rC","x":162,"y":2.4},{"s":"rC","x":164,"y":2.55},{"s":"rC","x":165,"y":2.58},{"s":"rC","x":166,"y":2.55},{"s":"rC","x":167,"y":2.48},{"s":"rC","x":168,"y":2.38},{"s":"rC","x":170,"y":2.12},{"s":"rC","x":172,"y":1.9},{"s":"rC","x":174,"y":1.72},{"s":"rC","x":176,"y":1.55},{"s":"rC","x":178,"y":1.36},{"s":"rC","x":180,"y":1.18},{"s":"rC","x":183,"y":0.94},{"s":"rC","x":186,"y":0.74},{"s":"rC","x":190,"y":0.54},{"s":"rC","x":195,"y":0.37},{"s":"rC","x":200,"y":0.26},{"s":"rC","x":205,"y":0.19},{"s":"rC","x":210,"y":0.14},{"s":"rC","x":215,"y":0.11},{"s":"rC","x":220,"y":0.085},{"s":"rC","x":225,"y":0.07},
{"s":"rD","x":95,"y":0.04},{"s":"rD","x":100,"y":0.05},{"s":"rD","x":105,"y":0.05},{"s":"rD","x":110,"y":0.07},{"s":"rD","x":112,"y":0.09},{"s":"rD","x":115,"y":0.09},{"s":"rD","x":118,"y":0.12},{"s":"rD","x":120,"y":0.17},{"s":"rD","x":122,"y":0.3},{"s":"rD","x":124,"y":0.25},{"s":"rD","x":126,"y":0.2},{"s":"rD","x":128,"y":0.25},{"s":"rD","x":130,"y":0.33},{"s":"rD","x":132,"y":0.46},{"s":"rD","x":134,"y":0.62},{"s":"rD","x":136,"y":0.55},{"s":"rD","x":138,"y":0.64},{"s":"rD","x":140,"y":0.82},{"s":"rD","x":142,"y":0.94},{"s":"rD","x":144,"y":0.96},{"s":"rD","x":146,"y":0.98},{"s":"rD","x":148,"y":1.05},{"s":"rD","x":150,"y":1.15},{"s":"rD","x":152,"y":1.3},{"s":"rD","x":154,"y":1.3},{"s":"rD","x":156,"y":1.38},{"s":"rD","x":158,"y":1.72},{"s":"rD","x":160,"y":2.05},{"s":"rD","x":162,"y":2.35},{"s":"rD","x":164,"y":2.6},{"s":"rD","x":165,"y":2.66},{"s":"rD","x":166,"y":2.66},{"s":"rD","x":167,"y":2.6},{"s":"rD","x":168,"y":2.5},{"s":"rD","x":170,"y":2.25},{"s":"rD","x":172,"y":2.02},{"s":"rD","x":174,"y":1.85},{"s":"rD","x":176,"y":1.7},{"s":"rD","x":178,"y":1.52},{"s":"rD","x":180,"y":1.32},{"s":"rD","x":183,"y":1.05},{"s":"rD","x":186,"y":0.84},{"s":"rD","x":190,"y":0.62},{"s":"rD","x":195,"y":0.42},{"s":"rD","x":200,"y":0.29},{"s":"rD","x":205,"y":0.21},{"s":"rD","x":210,"y":0.15},{"s":"rD","x":215,"y":0.11},{"s":"rD","x":220,"y":0.09},{"s":"rD","x":225,"y":0.075},
{"s":"rE","x":95,"y":0.03},{"s":"rE","x":100,"y":0.03},{"s":"rE","x":105,"y":0.035},{"s":"rE","x":110,"y":0.05},{"s":"rE","x":115,"y":0.06},{"s":"rE","x":118,"y":0.08},{"s":"rE","x":120,"y":0.11},{"s":"rE","x":122,"y":0.2},{"s":"rE","x":124,"y":0.16},{"s":"rE","x":126,"y":0.12},{"s":"rE","x":128,"y":0.15},{"s":"rE","x":130,"y":0.22},{"s":"rE","x":132,"y":0.33},{"s":"rE","x":134,"y":0.47},{"s":"rE","x":136,"y":0.4},{"s":"rE","x":138,"y":0.48},{"s":"rE","x":140,"y":0.66},{"s":"rE","x":142,"y":0.78},{"s":"rE","x":144,"y":0.82},{"s":"rE","x":146,"y":0.85},{"s":"rE","x":148,"y":0.93},{"s":"rE","x":150,"y":1.04},{"s":"rE","x":152,"y":1.2},{"s":"rE","x":154,"y":1.22},{"s":"rE","x":156,"y":1.3},{"s":"rE","x":158,"y":1.68},{"s":"rE","x":160,"y":2.0},{"s":"rE","x":162,"y":2.35},{"s":"rE","x":164,"y":2.7},{"s":"rE","x":165,"y":2.82},{"s":"rE","x":166,"y":2.88},{"s":"rE","x":167,"y":2.86},{"s":"rE","x":168,"y":2.78},{"s":"rE","x":170,"y":2.52},{"s":"rE","x":172,"y":2.28},{"s":"rE","x":174,"y":2.12},{"s":"rE","x":176,"y":1.98},{"s":"rE","x":178,"y":1.78},{"s":"rE","x":180,"y":1.56},{"s":"rE","x":183,"y":1.25},{"s":"rE","x":186,"y":1.0},{"s":"rE","x":190,"y":0.74},{"s":"rE","x":195,"y":0.5},{"s":"rE","x":200,"y":0.35},{"s":"rE","x":205,"y":0.25},{"s":"rE","x":210,"y":0.18},{"s":"rE","x":215,"y":0.13},{"s":"rE","x":220,"y":0.1},{"s":"rE","x":225,"y":0.08},
{"s":"rF","x":95,"y":0.03},{"s":"rF","x":100,"y":0.03},{"s":"rF","x":105,"y":0.03},{"s":"rF","x":110,"y":0.04},{"s":"rF","x":115,"y":0.05},{"s":"rF","x":118,"y":0.07},{"s":"rF","x":120,"y":0.09},{"s":"rF","x":122,"y":0.17},{"s":"rF","x":124,"y":0.13},{"s":"rF","x":126,"y":0.1},{"s":"rF","x":128,"y":0.13},{"s":"rF","x":130,"y":0.19},{"s":"rF","x":132,"y":0.29},{"s":"rF","x":134,"y":0.42},{"s":"rF","x":136,"y":0.36},{"s":"rF","x":138,"y":0.44},{"s":"rF","x":140,"y":0.6},{"s":"rF","x":142,"y":0.72},{"s":"rF","x":144,"y":0.76},{"s":"rF","x":146,"y":0.79},{"s":"rF","x":148,"y":0.87},{"s":"rF","x":150,"y":0.98},{"s":"rF","x":152,"y":1.13},{"s":"rF","x":154,"y":1.15},{"s":"rF","x":156,"y":1.24},{"s":"rF","x":158,"y":1.6},{"s":"rF","x":160,"y":1.92},{"s":"rF","x":162,"y":2.25},{"s":"rF","x":164,"y":2.55},{"s":"rF","x":165,"y":2.65},{"s":"rF","x":166,"y":2.7},{"s":"rF","x":167,"y":2.7},{"s":"rF","x":168,"y":2.64},{"s":"rF","x":170,"y":2.42},{"s":"rF","x":172,"y":2.2},{"s":"rF","x":174,"y":2.05},{"s":"rF","x":176,"y":1.92},{"s":"rF","x":178,"y":1.72},{"s":"rF","x":180,"y":1.5},{"s":"rF","x":183,"y":1.2},{"s":"rF","x":186,"y":0.97},{"s":"rF","x":190,"y":0.72},{"s":"rF","x":195,"y":0.49},{"s":"rF","x":200,"y":0.34},{"s":"rF","x":205,"y":0.24},{"s":"rF","x":210,"y":0.17},{"s":"rF","x":215,"y":0.13},{"s":"rF","x":220,"y":0.1},{"s":"rF","x":225,"y":0.08},
{"s":"rG","x":95,"y":0.02},{"s":"rG","x":100,"y":0.02},{"s":"rG","x":110,"y":0.03},{"s":"rG","x":118,"y":0.06},{"s":"rG","x":120,"y":0.08},{"s":"rG","x":122,"y":0.15},{"s":"rG","x":124,"y":0.11},{"s":"rG","x":126,"y":0.08},{"s":"rG","x":128,"y":0.1},{"s":"rG","x":130,"y":0.16},{"s":"rG","x":132,"y":0.25},{"s":"rG","x":134,"y":0.37},{"s":"rG","x":136,"y":0.32},{"s":"rG","x":138,"y":0.4},{"s":"rG","x":140,"y":0.55},{"s":"rG","x":142,"y":0.66},{"s":"rG","x":144,"y":0.7},{"s":"rG","x":146,"y":0.73},{"s":"rG","x":148,"y":0.8},{"s":"rG","x":150,"y":0.92},{"s":"rG","x":152,"y":1.08},{"s":"rG","x":154,"y":1.1},{"s":"rG","x":156,"y":1.18},{"s":"rG","x":158,"y":1.5},{"s":"rG","x":160,"y":1.78},{"s":"rG","x":162,"y":2.05},{"s":"rG","x":164,"y":2.3},{"s":"rG","x":165,"y":2.38},{"s":"rG","x":166,"y":2.43},{"s":"rG","x":167,"y":2.45},{"s":"rG","x":168,"y":2.42},{"s":"rG","x":170,"y":2.28},{"s":"rG","x":172,"y":2.1},{"s":"rG","x":174,"y":1.98},{"s":"rG","x":176,"y":1.86},{"s":"rG","x":178,"y":1.68},{"s":"rG","x":180,"y":1.48},{"s":"rG","x":183,"y":1.2},{"s":"rG","x":186,"y":0.98},{"s":"rG","x":190,"y":0.74},{"s":"rG","x":195,"y":0.51},{"s":"rG","x":200,"y":0.36},{"s":"rG","x":205,"y":0.26},{"s":"rG","x":210,"y":0.19},{"s":"rG","x":215,"y":0.14},{"s":"rG","x":220,"y":0.11},{"s":"rG","x":225,"y":0.085},
{"s":"rH","x":95,"y":0.02},{"s":"rH","x":100,"y":0.02},{"s":"rH","x":110,"y":0.03},{"s":"rH","x":118,"y":0.05},{"s":"rH","x":120,"y":0.07},{"s":"rH","x":122,"y":0.14},{"s":"rH","x":124,"y":0.1},{"s":"rH","x":126,"y":0.07},{"s":"rH","x":128,"y":0.09},{"s":"rH","x":130,"y":0.14},{"s":"rH","x":132,"y":0.22},{"s":"rH","x":134,"y":0.33},{"s":"rH","x":136,"y":0.28},{"s":"rH","x":138,"y":0.36},{"s":"rH","x":140,"y":0.5},{"s":"rH","x":142,"y":0.6},{"s":"rH","x":144,"y":0.64},{"s":"rH","x":146,"y":0.67},{"s":"rH","x":148,"y":0.74},{"s":"rH","x":150,"y":0.85},{"s":"rH","x":152,"y":1.0},{"s":"rH","x":154,"y":1.02},{"s":"rH","x":156,"y":1.1},{"s":"rH","x":158,"y":1.4},{"s":"rH","x":160,"y":1.65},{"s":"rH","x":162,"y":1.88},{"s":"rH","x":164,"y":2.08},{"s":"rH","x":165,"y":2.15},{"s":"rH","x":166,"y":2.2},{"s":"rH","x":167,"y":2.22},{"s":"rH","x":168,"y":2.2},{"s":"rH","x":170,"y":2.08},{"s":"rH","x":172,"y":1.93},{"s":"rH","x":174,"y":1.83},{"s":"rH","x":176,"y":1.74},{"s":"rH","x":178,"y":1.58},{"s":"rH","x":180,"y":1.4},{"s":"rH","x":183,"y":1.15},{"s":"rH","x":186,"y":0.94},{"s":"rH","x":190,"y":0.71},{"s":"rH","x":195,"y":0.49},{"s":"rH","x":200,"y":0.35},{"s":"rH","x":205,"y":0.25},{"s":"rH","x":210,"y":0.18},{"s":"rH","x":215,"y":0.135},{"s":"rH","x":220,"y":0.105},{"s":"rH","x":225,"y":0.085},
{"s":"rI","x":95,"y":0.02},{"s":"rI","x":100,"y":0.02},{"s":"rI","x":110,"y":0.03},{"s":"rI","x":118,"y":0.05},{"s":"rI","x":120,"y":0.07},{"s":"rI","x":122,"y":0.13},{"s":"rI","x":124,"y":0.1},{"s":"rI","x":126,"y":0.07},{"s":"rI","x":128,"y":0.09},{"s":"rI","x":130,"y":0.14},{"s":"rI","x":132,"y":0.23},{"s":"rI","x":134,"y":0.34},{"s":"rI","x":136,"y":0.29},{"s":"rI","x":138,"y":0.37},{"s":"rI","x":140,"y":0.52},{"s":"rI","x":142,"y":0.63},{"s":"rI","x":144,"y":0.67},{"s":"rI","x":146,"y":0.7},{"s":"rI","x":148,"y":0.78},{"s":"rI","x":150,"y":0.9},{"s":"rI","x":152,"y":1.06},{"s":"rI","x":154,"y":1.1},{"s":"rI","x":156,"y":1.18},{"s":"rI","x":158,"y":1.55},{"s":"rI","x":160,"y":1.9},{"s":"rI","x":162,"y":2.3},{"s":"rI","x":164,"y":2.7},{"s":"rI","x":165,"y":2.85},{"s":"rI","x":166,"y":2.92},{"s":"rI","x":167,"y":2.9},{"s":"rI","x":168,"y":2.82},{"s":"rI","x":170,"y":2.58},{"s":"rI","x":172,"y":2.36},{"s":"rI","x":174,"y":2.22},{"s":"rI","x":176,"y":2.1},{"s":"rI","x":178,"y":1.9},{"s":"rI","x":180,"y":1.66},{"s":"rI","x":183,"y":1.34},{"s":"rI","x":186,"y":1.08},{"s":"rI","x":190,"y":0.8},{"s":"rI","x":195,"y":0.55},{"s":"rI","x":200,"y":0.38},{"s":"rI","x":205,"y":0.27},{"s":"rI","x":210,"y":0.19},{"s":"rI","x":215,"y":0.14},{"s":"rI","x":220,"y":0.105},{"s":"rI","x":225,"y":0.085},
{"s":"m","x":95,"y":0.01},{"s":"m","x":100,"y":0.01},{"s":"m","x":105,"y":0.015},{"s":"m","x":110,"y":0.02},{"s":"m","x":115,"y":0.03},{"s":"m","x":120,"y":0.06},{"s":"m","x":122,"y":0.11},{"s":"m","x":124,"y":0.09},{"s":"m","x":126,"y":0.05},{"s":"m","x":128,"y":0.06},{"s":"m","x":130,"y":0.1},{"s":"m","x":132,"y":0.18},{"s":"m","x":134,"y":0.27},{"s":"m","x":136,"y":0.22},{"s":"m","x":138,"y":0.3},{"s":"m","x":140,"y":0.45},{"s":"m","x":142,"y":0.57},{"s":"m","x":144,"y":0.6},{"s":"m","x":146,"y":0.63},{"s":"m","x":148,"y":0.72},{"s":"m","x":150,"y":0.85},{"s":"m","x":152,"y":1.02},{"s":"m","x":154,"y":1.06},{"s":"m","x":156,"y":1.15},{"s":"m","x":158,"y":1.5},{"s":"m","x":160,"y":1.82},{"s":"m","x":162,"y":2.22},{"s":"m","x":164,"y":2.78},{"s":"m","x":165,"y":3.0},{"s":"m","x":166,"y":3.12},{"s":"m","x":167,"y":3.14},{"s":"m","x":168,"y":3.08},{"s":"m","x":170,"y":2.85},{"s":"m","x":172,"y":2.58},{"s":"m","x":174,"y":2.43},{"s":"m","x":176,"y":2.28},{"s":"m","x":178,"y":2.05},{"s":"m","x":180,"y":1.75},{"s":"m","x":183,"y":1.4},{"s":"m","x":186,"y":1.12},{"s":"m","x":190,"y":0.86},{"s":"m","x":195,"y":0.6},{"s":"m","x":200,"y":0.43},{"s":"m","x":205,"y":0.3},{"s":"m","x":210,"y":0.21},{"s":"m","x":215,"y":0.14},{"s":"m","x":220,"y":0.09},{"s":"m","x":225,"y":0.06}
]},
"transform":[{"lookup":"s","from":{"data":{"name":"groups"},"key":"s","fields":["g"]}}],
"encoding":{
 "x":{"field":"x","type":"quantitative","scale":{"domain":[95.2,224.8],"nice":false,"zero":false},
  "axis":{"title":"Size (bp)","values":[100,120,140,160,180,200,220],"domain":false,"grid":false,"tickSize":13,"tickWidth":1.5,"tickColor":"#555","labelFontSize":29,"labelFont":"Liberation Sans","labelColor":"#222","labelPadding":9,"labelFlush":false,"labelOverlap":false,"titleFontSize":39,"titleFont":"Liberation Sans","titleFontWeight":"normal","titleColor":"#222","titleBaseline":"alphabetic","titleY":96,"titleX":347,"titleAlign":"center"}},
 "y":{"field":"y","type":"quantitative","scale":{"domain":[-0.16,4.16],"nice":false,"zero":false},
  "axis":{"title":"Frequency (%)","values":[0,1,2,3,4],"domain":false,"grid":false,"tickSize":15,"tickWidth":1.5,"tickColor":"#555","labelFontSize":29,"labelFont":"Liberation Sans","labelColor":"#222","labelAngle":270,"labelAlign":"center","labelBaseline":"alphabetic","labelPadding":18,"labelFlush":false,"labelOverlap":false,"titleFontSize":39,"titleFont":"Liberation Sans","titleFontWeight":"normal","titleColor":"#222","titleAngle":270,"titleBaseline":"alphabetic","titleAlign":"center","titleX":-93,"titleY":326}},
 "detail":{"field":"s","type":"nominal"}
},
"layer":[
 {"transform":[{"filter":"datum.s == 'none'"}],"mark":{"type":"square"},
  "encoding":{"fill":{"field":"g","type":"nominal","scale":{"domain":["< 2%","2% – 4%","4% – 6%","6% – 8%","> 8%"],"range":["#1a0ee0","#ffff00","#00ff00","#9c3631","#ff0000"]},
   "legend":{"orient":"none","legendX":44,"legendY":62.5,"title":null,"symbolType":"M-2.767,-1.05H2.767V1.05H-2.767Z","symbolSize":900,"symbolOffset":26.5,"symbolStrokeWidth":0,"symbolOpacity":1,"rowPadding":-3.7,"padding":0,"labelFont":"Lato","labelFontSize":18.5,"labelColor":"#333","labelAlign":"center","labelOffset":108.5,"labelLimit":200}}}},
 {"transform":[{"filter":"datum.g == '< 2%'"}],"mark":{"type":"line","strokeWidth":2.6,"interpolate":"monotone"},
  "encoding":{"color":{"field":"g","type":"nominal","scale":{"domain":["< 2%","2% – 4%","4% – 6%","6% – 8%","> 8%"],"range":["#0a0af0","#ffff00","#00ff00","#9c3631","#ff0000"]},"legend":null}}},
 {"transform":[{"filter":"datum.g == '2% – 4%'"}],"mark":{"type":"line","strokeWidth":2.6,"interpolate":"monotone"},
  "encoding":{"color":{"field":"g","type":"nominal","legend":null}}},
 {"transform":[{"filter":"datum.g == '4% – 6%'"}],"mark":{"type":"line","strokeWidth":2.6,"interpolate":"monotone"},
  "encoding":{"color":{"field":"g","type":"nominal","legend":null}}},
 {"transform":[{"filter":"datum.g == '6% – 8%'"}],"mark":{"type":"line","strokeWidth":2.6,"interpolate":"monotone"},
  "encoding":{"color":{"field":"g","type":"nominal","legend":null}}},
 {"transform":[{"filter":"datum.g == '> 8%'"}],"mark":{"type":"line","strokeWidth":2.6,"interpolate":"monotone"},
  "encoding":{"color":{"field":"g","type":"nominal","legend":null}}},
 {"transform":[{"filter":"datum.g == 'mean'"}],"mark":{"type":"line","strokeWidth":13,"color":"#000","interpolate":"monotone","strokeJoin":"round","strokeCap":"round"},"encoding":{}}
]
}
